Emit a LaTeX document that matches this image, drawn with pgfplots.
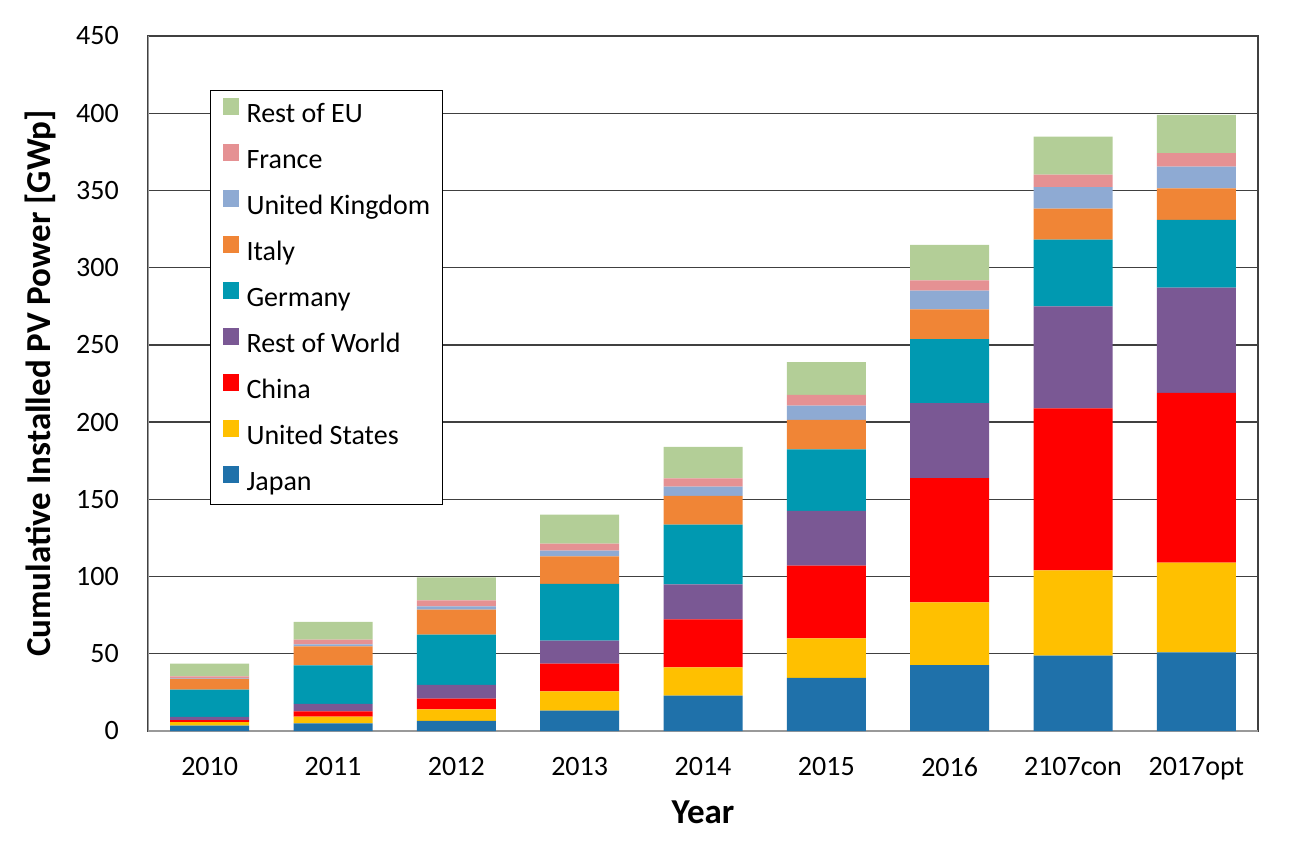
\documentclass[border=0pt]{standalone}
\usepackage{fontspec}
\setmainfont{Carlito}
\usepackage{pgfplots}
\pgfplotsset{compat=1.18}
\usepackage{pgfplotstable}

\definecolor{cJapan}{HTML}{1F71AA}
\definecolor{cUS}{HTML}{FFC000}
\definecolor{cCN}{HTML}{FF0000}
\definecolor{cRoW}{HTML}{7A5894}
\definecolor{cDE}{HTML}{0099B1}
\definecolor{cIT}{HTML}{F08536}
\definecolor{cUK}{HTML}{8EAAD3}
\definecolor{cFR}{HTML}{E59193}
\definecolor{cREU}{HTML}{B3CE97}

\pgfplotstableread{
x J US CN RoW DE IT UK FR REU
0 3.5 2.3 1.3 2.0 17.7 6.9 0.3 1.3 8.3
1 5.0 4.3 3.4 4.8 25.0 12.3 1.3 3.0 11.5
2 6.5 7.5 6.9 8.9 32.6 16.2 2.1 3.9 14.9
3 13.2 12.5 17.9 14.9 36.7 17.9 3.7 4.5 18.8
4 22.9 18.3 31.1 22.7 38.6 18.6 6.0 5.4 20.3
5 34.4 25.6 47.0 35.6 39.8 19.0 9.3 6.9 21.3
6 42.7 40.6 80.5 48.5 41.5 19.2 12.1 6.7 23.0
7 48.8 55.2 104.9 66.0 43.2 20.1 14.0 8.0 24.6
8 50.9 58.1 110.0 68.0 44.0 20.3 14.1 8.8 24.8
}\data

\begin{document}
\begin{tikzpicture}
\begin{axis}[
  scale only axis, width=1110bp, height=695bp,
  ybar stacked, bar width=79bp,
  xmin=-0.5, xmax=8.5, ymin=0, ymax=450,
  xtick={0,...,8},
  xticklabels={2010,2011,2012,2013,2014,2015,2016,2107con,2017opt},
  ytick={0,50,...,450},
  ymajorgrids, grid style={draw=black!75, line width=1.3bp},
  major tick length=0pt,
  axis line style={draw=black!75, line width=1.3bp},
  tick label style={font=\fontsize{28bp}{33bp}\selectfont},
  /pgf/number format/assume math mode=true,
  xticklabel style={inner sep=0pt, anchor=north, yshift=-26bp},
  yticklabel style={inner sep=0pt, anchor=east, xshift=-29bp},
  xlabel={Year},
  ylabel={Cumulative Installed PV Power [GWp]},
  xlabel style={font=\bfseries\fontsize{35bp}{40bp}\selectfont, inner sep=0pt,
    at={(axis description cs:0.5,-0.1165)}, anchor=center},
  ylabel style={font=\bfseries\fontsize{35bp}{40bp}\selectfont, inner sep=0pt,
    at={(axis description cs:-0.0973,0.5)}, anchor=center},
  reverse legend,
  legend cell align=left,
  legend image code/.code={\fill[#1,draw=none] (0bp,0.5bp) rectangle (16bp,17.5bp);},
  legend style={at={(axis description cs:0.0559,0.9223)}, anchor=north west,
    draw=black, line width=1bp, inner xsep=12bp, inner ysep=7bp,
    font=\fontsize{28bp}{33bp}\selectfont,
    row sep=14.6bp, column sep=8bp,
    nodes={inner sep=0pt, text height=21bp, text depth=7bp}},
]
\addplot[fill=cJapan, draw=none] table[x=x,y=J]{\data};
\addplot[fill=cUS, draw=none] table[x=x,y=US]{\data};
\addplot[fill=cCN, draw=none] table[x=x,y=CN]{\data};
\addplot[fill=cRoW, draw=none] table[x=x,y=RoW]{\data};
\addplot[fill=cDE, draw=none] table[x=x,y=DE]{\data};
\addplot[fill=cIT, draw=none] table[x=x,y=IT]{\data};
\addplot[fill=cUK, draw=none] table[x=x,y=UK]{\data};
\addplot[fill=cFR, draw=none] table[x=x,y=FR]{\data};
\addplot[fill=cREU, draw=none] table[x=x,y=REU]{\data};
\legend{Japan,United States,China,Rest of World,Germany,Italy,United Kingdom,France,Rest of EU}
\draw[black!40, line width=1.5bp] (rel axis cs:0,1) -- (rel axis cs:0,0) -- (rel axis cs:1,0);
\end{axis}
\pgfresetboundingbox
\path[use as bounding box] ([shift={(-148bp,-112bp)}]current axis.south west) rectangle ([shift={(46bp,36bp)}]current axis.north east);
\end{tikzpicture}
\end{document}
